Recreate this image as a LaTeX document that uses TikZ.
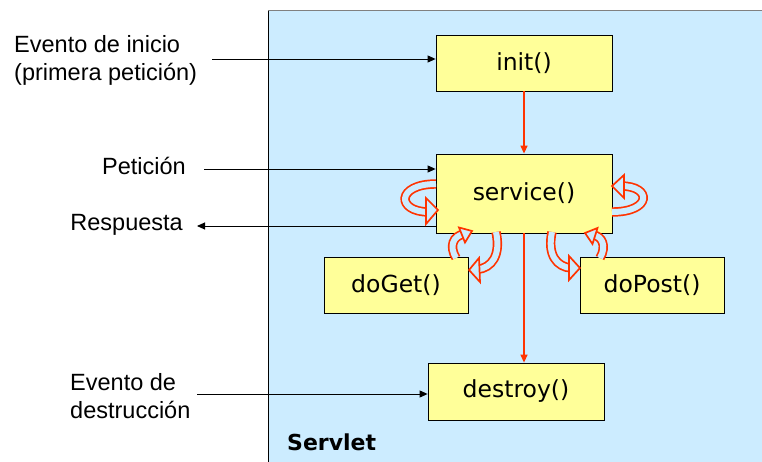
\documentclass[tikz,border=0pt]{standalone}
\usepackage{fontspec}
\setmainfont{Liberation Sans}
\newfontfamily\boxfont{DejaVu Sans}
\usetikzlibrary{arrows.meta,positioning}

\definecolor{servletbg}{HTML}{CCECFF}
\definecolor{methodfill}{HTML}{FFFF99}
\definecolor{loopred}{HTML}{FF3300}

\tikzset{
	method/.style={draw=black, line width=0.8pt, fill=methodfill, minimum width=176pt,
		minimum height=56pt, inner sep=0pt, font=\boxfont\fontsize{23.5}{28}\selectfont},
	event/.style={inner sep=0pt, align=left, font=\fontsize{23.5}{28}\selectfont},
	flow/.style={line width=0.9pt, -{Triangle[length=8pt,width=7pt]}},
	call/.style={draw=loopred, line width=1.3pt, -{Triangle[length=8pt,width=7pt]}},
	band/.style={draw=loopred, line width=1.7pt, double=servletbg, double distance=6pt},
	bandtip/.style={draw=loopred, line width=1.7pt, line join=miter, fill=servletbg},
}

\begin{document}
\begin{tikzpicture}[x=1pt, y=-1pt]
	\useasboundingbox (0,0) rectangle (762,462);
	% servlet container
	\fill[servletbg] (268,11) rectangle (763,463);
	\draw[gray, line width=1pt] (268,11) -- (763,11);
	\draw[black, line width=1pt] (268,11) -- (268,463);
	\node[anchor=base west, inner sep=0pt, font=\boxfont\bfseries\fontsize{22}{26}\selectfont] (servlet) at (287,450) {Servlet};

	% methods
	\node[method] (init) at (524,63) {init()};
	\node[method, minimum height=79pt] (service) at (524,193.5) {service()};
	\node[method, minimum width=144pt] (doget) at (396,285) {doGet()};
	\node[method, minimum width=144pt] (dopost) at (652,285) {doPost()};
	\node[method, minimum height=57pt] (destroy) at (516,391.5) {destroy()};

	% events
	\node[event, anchor=west] (inicio) at (14,60) {Evento de inicio\\(primera petición)};
	\node[event, anchor=base east] (peticion) at (186,175) {Petición};
	\node[event, anchor=base east] (respuesta) at (183,231) {Respuesta};
	\node[event, anchor=west] (destruccion) at (70,396) {Evento de\\destrucción};

	\coordinate (inicioA) at (212,59);
	\coordinate (peticionA) at (204,169);
	\coordinate (respuestaA) at (197,226);
	\coordinate (destruccionA) at (197,394);

	\draw[flow] (inicioA) -- (inicioA -| init.west);
	\draw[flow] (peticionA) -- (peticionA -| service.west);
	\draw[flow] (respuestaA -| service.west) -- (respuestaA);
	\draw[flow] (destruccionA) -- (destruccionA -| destroy.west);

	\draw[call] (init.south) -- (service.north);
	\draw[call] (service.south) -- (service.south |- destroy.north);

	% loops round service
	\draw[band] (436,184) .. controls (396,184) and (396,212) .. (429,212);
	\filldraw[bandtip] (438,210) -- (426,198) -- (426,224) -- cycle;
	\draw[band] (612,212) .. controls (652,212) and (652,186) .. (621,186);
	\filldraw[bandtip] (612,186) -- (624,175) -- (624,198) -- cycle;

	% calls to doGet and doPost
	\draw[band] (456,258) .. controls (449,246) and (453,236) .. (464,234);
	\filldraw[bandtip] (472,231) -- (459,227.5) -- (465,242.5) -- cycle;
	\draw[band] (496,232) .. controls (501,255) and (492,268) .. (477,269.5);
	\filldraw[bandtip] (469,270) -- (479,258) -- (480,282) -- cycle;
	\draw[band] (552,232) .. controls (547,255) and (557,267) .. (571,268);
	\filldraw[bandtip] (580,268) -- (569,256) -- (569,280) -- cycle;
	\draw[band] (600,258) .. controls (607,246) and (602,236) .. (593,235);
	\filldraw[bandtip] (585,233) -- (597.5,228) -- (592.5,244) -- cycle;
\end{tikzpicture}
\end{document}
